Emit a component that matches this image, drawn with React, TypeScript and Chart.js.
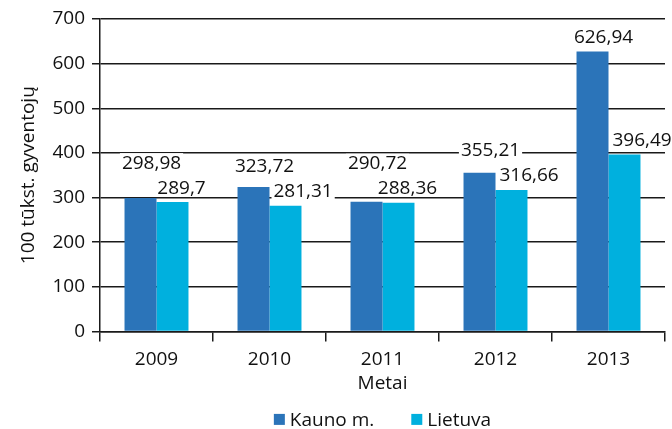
import React, { useEffect, useRef } from "react";
import { Chart, registerables } from "chart.js";

Chart.register(...registerables);

const years = ["2009", "2010", "2011", "2012", "2013"];
const kaunoValues = [298.98, 323.72, 290.72, 355.21, 626.94];
const lietuvaValues = [289.7, 281.31, 288.36, 316.66, 396.49];
const seriesNames = ["Kauno m.", "Lietuva"];
const seriesColors = ["#2B74B9", "#00B0DE"];
const yMin = 0;
const yMax = 700;
const yStep = 100;
const yTitle = "100 tūkst. gyventojų";
const xTitle = "Metai";

const FONT = "'Open Sans', sans-serif";
const TEXT = "#111111";
const LINE = "#1a1a1a";
const FS = 19;

const fmt = (v: number) => String(v).replace(".", ",");

const barLabels = {
  id: "barLabels",
  afterDatasetsDraw(chart: any) {
    const ctx = chart.ctx;
    const m0 = chart.getDatasetMeta(0);
    const m1 = chart.getDatasetMeta(1);
    ctx.save();
    ctx.font = `${FS}px ${FONT}`;
    ctx.textAlign = "center";
    ctx.textBaseline = "middle";
    const draw = (text: string, x: number, y: number, w: number) => {
      ctx.fillStyle = "#ffffff";
      ctx.fillRect(x - w / 2 - 2, y - 9, w + 4, 18);
      ctx.fillStyle = TEXT;
      ctx.fillText(text, x, y + 1);
    };
    for (let i = 0; i < years.length; i++) {
      const b0 = m0.data[i];
      const b1 = m1.data[i];
      const t0 = fmt(kaunoValues[i]);
      const t1 = fmt(lietuvaValues[i]);
      const w0 = ctx.measureText(t0).width;
      const w1 = ctx.measureText(t1).width;
      const y1 = b1.y - 15;
      let x1 = b1.x + 9;
      const kaunoRight = b0.x + b0.width / 2;
      if (y1 + 9 > b0.y && x1 - w1 / 2 - 2 < kaunoRight + 2) {
        x1 = kaunoRight + w1 / 2 + 4;
      }
      const y0 = Math.min(b0.y - 15, y1 - 25);
      draw(t0, b0.x + 11, y0, w0);
      draw(t1, x1, y1, w1);
    }
    ctx.restore();
  },
};

const customLegend = {
  id: "customLegend",
  afterDraw(chart: any) {
    const ctx = chart.ctx;
    const area = chart.chartArea;
    ctx.save();
    ctx.font = `${FS}px ${FONT}`;
    ctx.textBaseline = "middle";
    ctx.textAlign = "left";
    const box = 11;
    const gapBoxText = 5;
    const gapItems = 37;
    const items = chart.data.datasets.map((d: any) => ({
      label: d.label,
      color: d.backgroundColor,
      w: ctx.measureText(d.label).width,
    }));
    const total =
      items.reduce((s: number, it: any) => s + box + gapBoxText + it.w, 0) +
      gapItems * (items.length - 1);
    let x = (area.left + area.right) / 2 - total / 2;
    const y = area.bottom + 88;
    items.forEach((it: any) => {
      ctx.fillStyle = it.color;
      ctx.fillRect(x, y - box / 2, box, box);
      ctx.fillStyle = TEXT;
      ctx.fillText(it.label, x + box + gapBoxText, y + 1);
      x += box + gapBoxText + it.w + gapItems;
    });
    ctx.restore();
  },
};

export default function App() {
  const ref = useRef<HTMLCanvasElement | null>(null);

  useEffect(() => {
    if (!ref.current) return;
    const chart = new Chart(ref.current, {
      type: "bar",
      data: {
        labels: years,
        datasets: [
          {
            label: seriesNames[0],
            data: kaunoValues,
            backgroundColor: seriesColors[0],
            borderWidth: 0,
          },
          {
            label: seriesNames[1],
            data: lietuvaValues,
            backgroundColor: seriesColors[1],
            borderWidth: 0,
          },
        ],
      },
      options: {
        responsive: false,
        animation: false,
        layout: { padding: { top: 19, right: 7, bottom: 34, left: 0 } },
        datasets: {
          bar: { categoryPercentage: 0.566, barPercentage: 1 },
        },
        plugins: {
          legend: { display: false },
          tooltip: { enabled: false },
        },
        scales: {
          x: {
            grid: {
              offset: true,
              drawOnChartArea: false,
              drawTicks: true,
              tickLength: 10,
              color: LINE,
              lineWidth: 1.5,
            },
            border: { color: LINE, width: 1.5 },
            ticks: {
              color: TEXT,
              font: { family: FONT, size: FS },
              padding: 7,
            },
            title: {
              display: true,
              text: xTitle,
              color: TEXT,
              font: { family: FONT, size: FS },
              padding: { top: -6, bottom: 0 },
            },
          },
          y: {
            min: yMin,
            max: yMax,
            afterFit: (scale: any) => {
              scale.width = 100;
            },
            grid: {
              color: LINE,
              lineWidth: 1.5,
              drawTicks: true,
              tickLength: 8,
            },
            border: { color: LINE, width: 1.5 },
            ticks: {
              stepSize: yStep,
              color: TEXT,
              font: { family: FONT, size: FS },
              padding: 7,
            },
            title: {
              display: true,
              text: yTitle,
              color: TEXT,
              font: { family: FONT, size: FS },
              padding: { top: 17, bottom: 0 },
            },
          },
        },
      },
      plugins: [barLabels, customLegend],
    });
    return () => chart.destroy();
  }, []);

  return (
    <div
      style={{
        position: "absolute",
        left: 0,
        top: 0,
        width: 672,
        height: 429,
        background: "#ffffff",
      }}
    >
      <canvas ref={ref} width={672} height={429} style={{ display: "block" }} />
    </div>
  );
}
